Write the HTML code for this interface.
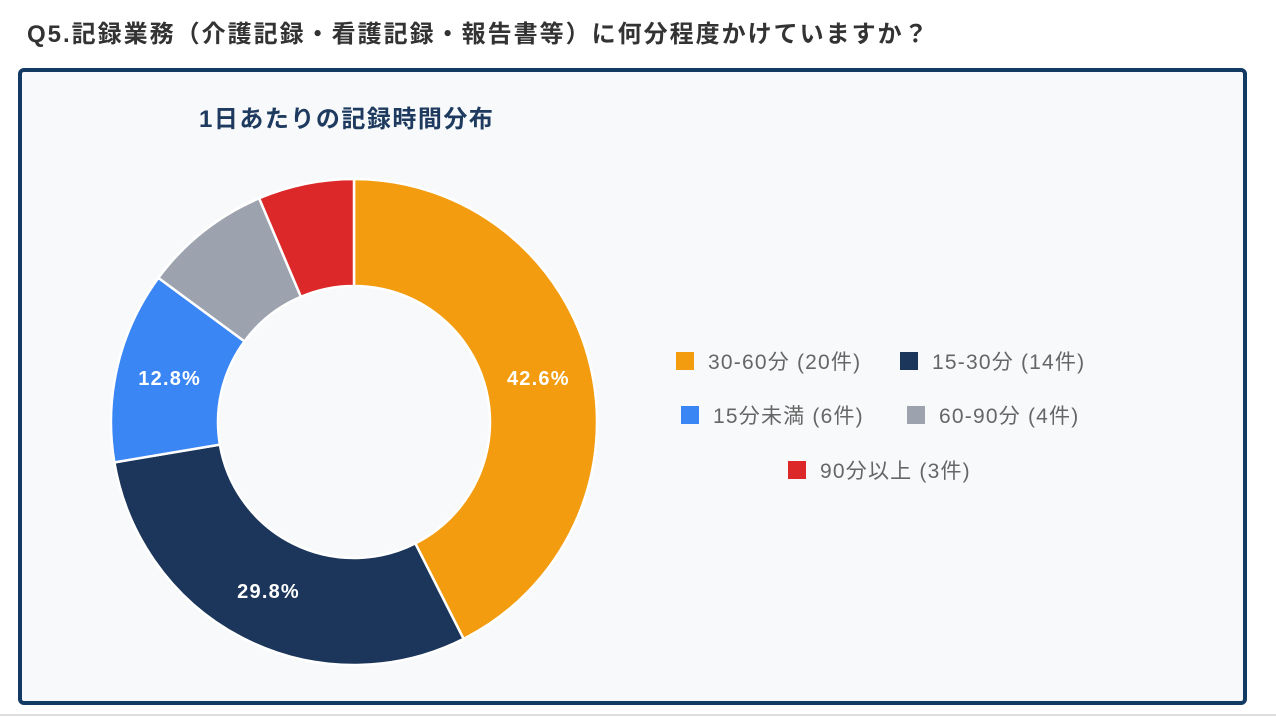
<!DOCTYPE html>
<html><head><meta charset="utf-8"><style>
body{margin:0;width:1276px;height:718px;background:#fff;font-family:"Liberation Sans","Noto Sans CJK JP",sans-serif;overflow:hidden;position:relative}
#q{position:absolute;left:27px;top:14px;font-size:24px;letter-spacing:2px;font-weight:bold;color:#333;white-space:nowrap}
#frame{position:absolute;left:18px;top:68px;width:1221px;height:629px;border:4px solid #123a63;border-radius:6px;background:#f8f9fb}
#line{position:absolute;left:0;top:714px;width:1276px;height:2px;background:#ddd}
</style></head><body>
<div id="q">Q5.記録業務（介護記録・看護記録・報告書等）に何分程度かけていますか？</div>
<div id="frame"></div>
<div id="line"></div>
<svg id="chart" width="1276" height="718" style="position:absolute;left:0;top:0">
<text x="199" y="127" font-size="24" letter-spacing="1.5" font-weight="bold" fill="#1e3a5f">1日あたりの記録時間分布</text>
</svg>
<script>
const categories=["30-60分","15-30分","15分未満","60-90分","90分以上"];
const counts=[20,14,6,4,3];
const colors=["#f39c0f","#1b365a","#3b86f5","#9ca3af","#dc2828"];
const legendPos=[[676,361],[900,361],[681,415],[907,415],[788,470]];
const svg=document.getElementById('chart');
const NS='http://www.w3.org/2000/svg';
const cx=354,cy=422,R=243,r=136;
const total=counts.reduce((a,b)=>a+b,0);
function pt(a,rad){return [cx+rad*Math.sin(a),cy-rad*Math.cos(a)];}
let a0=0;
counts.forEach((v,i)=>{
  const a1=a0+v/total*2*Math.PI;
  const large=(a1-a0)>Math.PI?1:0;
  const p1=pt(a0,R),p2=pt(a1,R),p3=pt(a1,r),p4=pt(a0,r);
  const p=document.createElementNS(NS,'path');
  p.setAttribute('d',`M${p1[0]},${p1[1]}A${R},${R} 0 ${large} 1 ${p2[0]},${p2[1]}L${p3[0]},${p3[1]}A${r},${r} 0 ${large} 0 ${p4[0]},${p4[1]}Z`);
  p.setAttribute('fill',colors[i]);p.setAttribute('stroke','#fff');p.setAttribute('stroke-width','2.5');
  
  
  svg.appendChild(p);
  const pct=v/total*100;
  if(pct>10){
    const m=pt((a0+a1)/2,(R+r)/2);
    const t=document.createElementNS(NS,'text');
    t.setAttribute('x',m[0]);t.setAttribute('y',m[1]+7);t.setAttribute('text-anchor','middle');
    t.setAttribute('font-size','20');t.setAttribute('letter-spacing','1.2');t.setAttribute('font-weight','bold');t.setAttribute('fill','#fff');
    t.textContent=pct.toFixed(1)+'%';
    
    
    svg.appendChild(t);
  }
  a0=a1;
});
categories.forEach((c,i)=>{
  const [x,y]=legendPos[i];
  const g=document.createElementNS(NS,'g');
  
  
  const s=document.createElementNS(NS,'rect');
  s.setAttribute('x',x);s.setAttribute('y',y-9);s.setAttribute('width',18);s.setAttribute('height',18);s.setAttribute('fill',colors[i]);
  g.appendChild(s);
  const t=document.createElementNS(NS,'text');
  t.setAttribute('x',x+32);t.setAttribute('y',y+8);t.setAttribute('font-size','21');t.setAttribute('letter-spacing','1.2');t.setAttribute('fill','#666');
  t.textContent=`${c} (${counts[i]}件)`;
  g.appendChild(t);
  svg.appendChild(g);
});
</script>
</body></html>
